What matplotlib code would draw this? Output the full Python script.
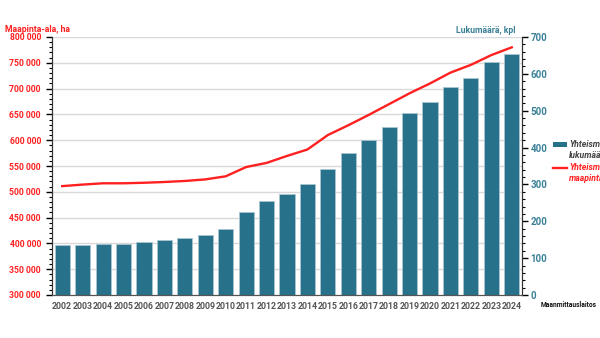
import matplotlib
matplotlib.use('Agg')
import matplotlib.pyplot as plt
from matplotlib.ticker import MultipleLocator, FuncFormatter
from matplotlib.patches import Rectangle
from matplotlib.lines import Line2D

plt.rcParams['font.family'] = ['Roboto', 'DejaVu Sans']

years = list(range(2002, 2025))
# yhteismetsien lukumäärä, kpl
count = [136, 137, 138, 138, 144, 148, 155, 164, 179, 224, 255, 274,
         300, 343, 386, 421, 457, 493, 525, 563, 588, 631, 654]
# yhteismetsien maapinta-ala, ha
area = [511000, 514000, 516500, 516500, 517500, 519000, 521000, 524000,
        530000, 548000, 556000, 569500, 582000, 610000, 629000, 649000,
        670000, 691000, 710000, 731000, 746000, 765000, 780000]

red = '#ff2020'
teal = '#27718a'
tealtext = '#3a8198'

W, H = 600, 338
fig = plt.figure(figsize=(6, 3.38), dpi=100)
ax = fig.add_axes([52/W, 1 - 295/H, 470/W, 258/H])
ax2 = ax.twinx()

x = list(range(len(years)))

# bars on the right axis, drawn under the line
ax2.bar(x, count, width=0.74, color=teal, edgecolor='#a9c6d0', linewidth=0.6, zorder=2)
ax2.set_ylim(0, 700)
ax2.yaxis.set_major_locator(MultipleLocator(100))
ax2.yaxis.set_minor_locator(MultipleLocator(20))
ax2.tick_params(axis='y', which='major', labelsize=7, labelcolor=tealtext, length=4, width=1, pad=2)
ax2.tick_params(axis='y', which='minor', length=2.5, width=0.8)
for lbl in ax2.get_yticklabels():
    lbl.set_fontweight('bold')

ax.set_zorder(ax2.get_zorder() + 1)
ax.patch.set_visible(False)
ax.plot(x, area, color=red, linewidth=1.7, zorder=3)
ax.set_ylim(300000, 800000)
ax.set_xlim(-0.5, len(years) - 0.5)
ax.yaxis.set_major_locator(MultipleLocator(50000))
ax.yaxis.set_minor_locator(MultipleLocator(10000))
ax.yaxis.set_major_formatter(FuncFormatter(lambda v, p: '{:,.0f}'.format(v).replace(',', ' ')))
ax.tick_params(axis='y', which='major', labelsize=6.2, labelcolor=red, length=4, width=1, pad=4)
ax.tick_params(axis='y', which='minor', length=2.5, width=0.8)
ax.set_xticks(x)
ax.set_xticklabels([str(y) for y in years], fontsize=6.3, color='#555555', fontweight='bold')
ax.tick_params(axis='x', length=0, pad=5)
for lbl in ax.get_yticklabels():
    lbl.set_fontweight('bold')

# gridlines sit behind the bars, so put them on the bar axis
for v in range(350000, 800001, 50000):
    ax2.axhline((v - 300000) / 500000 * 700, color='#d9d9d9', linewidth=1, zorder=0)

for a in (ax, ax2):
    a.spines['top'].set_visible(False)
    a.spines['left'].set_color('#333333')
    a.spines['right'].set_color('#333333')
    a.spines['bottom'].set_color('#555555')

fig.text(5/W, 1 - 29/H, 'Maapinta-ala, ha', color=red, fontsize=6.2, fontweight='bold', va='center')
fig.text(515/W, 1 - 30.5/H, 'Lukumäärä, kpl', color=tealtext, fontsize=6.2, fontweight='bold',
         va='center', ha='right')
fig.text(541/W, 1 - 305/H, 'Maanmittauslaitos', color='#111111', fontsize=4.8,
         fontweight='bold', va='center')

# legend, drawn by hand at the right edge
fig.patches.append(Rectangle((553/W, 1 - 147.5/H), 14/W, 5/H, transform=fig.transFigure,
                             facecolor=teal, edgecolor='none'))
fig.text(569/W, 1 - 140/H, 'Yhteismetsien\nlukumäärä', color='#444444', fontsize=6.2,
         fontweight='bold', style='italic', va='top', linespacing=1.25)
fig.lines.append(Line2D([553/W, 567/W], [1 - 167.5/H, 1 - 167.5/H], transform=fig.transFigure,
                        color=red, linewidth=1.7))
fig.text(569/W, 1 - 163/H, 'Yhteismetsien\nmaapinta-ala', color=red, fontsize=6.2,
         fontweight='bold', style='italic', va='top', linespacing=1.25)

fig.savefig('out.png', dpi=100)
